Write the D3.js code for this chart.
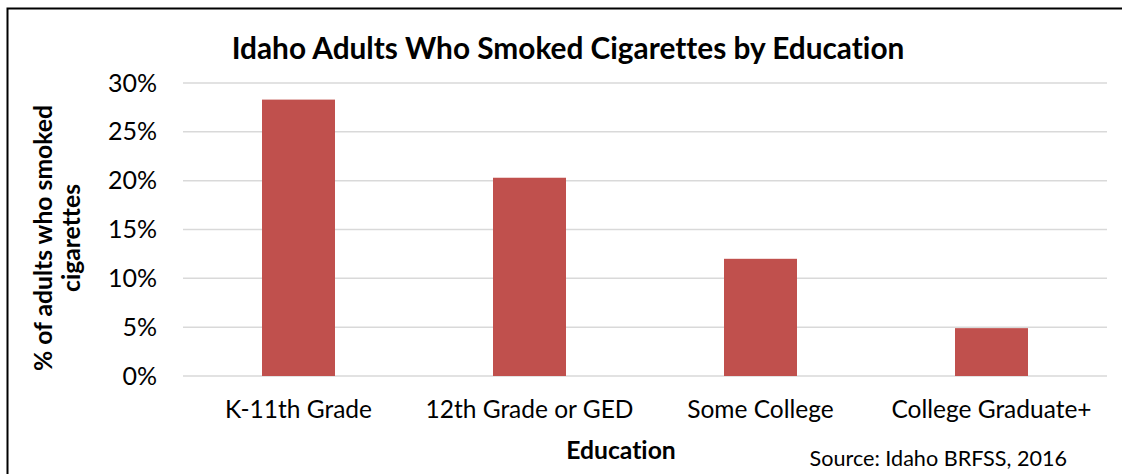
<!DOCTYPE html>
<html><head><meta charset="utf-8">
<script src="https://cdn.jsdelivr.net/npm/d3@7"></script>
<style>body{margin:0;background:#fff}svg{display:block}text{font-family:Lato,sans-serif;fill:#000;font-variant-ligatures:none}</style>
</head><body><svg id="c" width="1122" height="474"></svg>
<script>
const categories = ["K-11th Grade", "12th Grade or GED", "Some College", "College Graduate+"];
const values = [28.3, 20.3, 12.0, 4.9];
const yTicks = [0, 5, 10, 15, 20, 25, 30];
const title = "Idaho Adults Who Smoked Cigarettes by Education";
const xTitle = "Education";
const yTitle = ["% of adults who smoked", "cigarettes"];
const source = "Source: Idaho BRFSS, 2016";

const svg = d3.select("#c");
svg.append("rect").attr("x",7.5).attr("y",8.5).attr("width",1130).attr("height",480)
  .attr("fill","#fff").attr("stroke","#000").attr("stroke-width",2);

const x = d3.scaleBand().domain(categories).range([183,1107]).paddingInner(0.684).paddingOuter(0.342);
const y = d3.scaleLinear().domain([0,30]).range([376,83]);

svg.append("g").selectAll("line").data(yTicks).join("line")
  .attr("x1",183).attr("x2",1107).attr("y1",d=>y(d)).attr("y2",d=>y(d))
  .attr("stroke","#d9d9d9").attr("stroke-width",1.5);

svg.append("g").selectAll("rect").data(values).join("rect")
  .attr("x",(d,i)=>x(categories[i])).attr("width",x.bandwidth())
  .attr("y",d=>y(d)).attr("height",d=>y(0)-y(d)).attr("fill","#C0504D");

const F = "Lato,sans-serif";
const yAxis = d3.axisLeft(y).tickValues(yTicks).tickFormat(d=>d+"%").tickSize(0).tickPadding(0);
const ga = svg.append("g").attr("transform","translate(157,0)").call(yAxis);
ga.select(".domain").remove();
ga.selectAll("text").style("font-size","25px").style("font-family",F).attr("fill","#000");

const xAxis = d3.axisBottom(x).tickSize(0).tickPadding(0);
const gx = svg.append("g").attr("transform","translate(0,418)").call(xAxis);
gx.select(".domain").remove();
gx.selectAll("text").attr("y",0).attr("dy",0).style("font-size","24.5px").style("font-family",F).attr("fill","#000");

svg.append("text").attr("x",568).attr("y",59).attr("text-anchor","middle")
  .style("font-size","29.8px").style("font-weight","bold").text(title);
svg.append("text").attr("x",621).attr("y",459).attr("text-anchor","middle")
  .style("font-size","24.7px").style("font-weight","bold").text(xTitle);
yTitle.forEach((t,i)=>{
  svg.append("text").attr("transform",`translate(${52+i*28},238) rotate(-90)`).attr("text-anchor","middle")
    .style("font-size","24.7px").style("font-weight","bold").text(t);
});
svg.append("text").attr("x",1067).attr("y",466).attr("text-anchor","end")
  .style("font-size","21.6px").text(source);
</script></body></html>
